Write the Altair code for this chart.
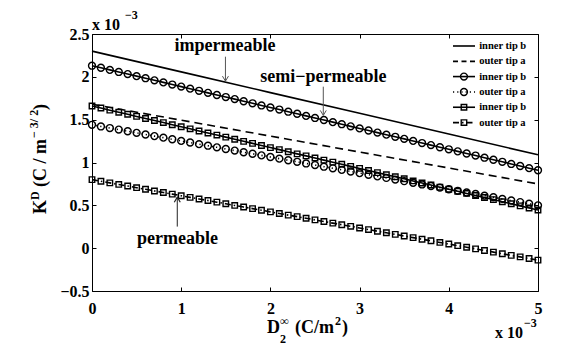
import altair as alt
import pandas as pd

# ---------------- data (values in units of 1e-3) ----------------
X_VALS = [0.0, 0.1, 0.2, 0.3, 0.4, 0.5, 0.6, 0.7, 0.8, 0.9,
          1.0, 1.1, 1.2, 1.3, 1.4, 1.5, 1.6, 1.7, 1.8, 1.9,
          2.0, 2.1, 2.2, 2.3, 2.4, 2.5, 2.6, 2.7, 2.8, 2.9,
          3.0, 3.1, 3.2, 3.3, 3.4, 3.5, 3.6, 3.7, 3.8, 3.9,
          4.0, 4.1, 4.2, 4.3, 4.4, 4.5, 4.6, 4.7, 4.8, 4.9, 5.0]

X_LINE = [0, 1, 2, 3, 4, 5]
IMP_INNER = [2.300, 2.058, 1.816, 1.574, 1.332, 1.090]
IMP_OUTER = [1.680, 1.494, 1.308, 1.122, 0.936, 0.750]

SEMI_INNER = [2.130, 2.106, 2.081, 2.057, 2.032, 2.008, 1.984, 1.959, 1.935, 1.910,
              1.886, 1.862, 1.837, 1.813, 1.788, 1.764, 1.740, 1.715, 1.691, 1.666,
              1.642, 1.618, 1.593, 1.569, 1.544, 1.520, 1.496, 1.471, 1.447, 1.422,
              1.398, 1.374, 1.349, 1.325, 1.300, 1.276, 1.252, 1.227, 1.203, 1.178,
              1.154, 1.130, 1.105, 1.081, 1.056, 1.032, 1.008, 0.983, 0.959, 0.934, 0.910]
SEMI_OUTER = [1.440, 1.421, 1.402, 1.384, 1.365, 1.346, 1.327, 1.308, 1.290, 1.271,
              1.252, 1.233, 1.214, 1.196, 1.177, 1.158, 1.139, 1.120, 1.102, 1.083,
              1.064, 1.045, 1.026, 1.008, 0.989, 0.970, 0.951, 0.932, 0.914, 0.895,
              0.876, 0.857, 0.838, 0.820, 0.801, 0.782, 0.763, 0.744, 0.726, 0.707,
              0.688, 0.669, 0.650, 0.632, 0.613, 0.594, 0.575, 0.556, 0.538, 0.519, 0.500]
PERM_INNER = [1.660, 1.636, 1.611, 1.587, 1.563, 1.538, 1.514, 1.490, 1.466, 1.441,
              1.417, 1.393, 1.368, 1.344, 1.320, 1.296, 1.271, 1.247, 1.223, 1.198,
              1.174, 1.150, 1.125, 1.101, 1.077, 1.053, 1.028, 1.004, 0.980, 0.955,
              0.931, 0.907, 0.882, 0.858, 0.834, 0.810, 0.785, 0.761, 0.737, 0.712,
              0.688, 0.664, 0.639, 0.615, 0.591, 0.567, 0.542, 0.518, 0.494, 0.469, 0.445]
PERM_OUTER = [0.800, 0.781, 0.762, 0.744, 0.725, 0.706, 0.687, 0.668, 0.650, 0.631,
              0.612, 0.593, 0.574, 0.556, 0.537, 0.518, 0.499, 0.480, 0.462, 0.443,
              0.424, 0.405, 0.386, 0.368, 0.349, 0.330, 0.311, 0.292, 0.274, 0.255,
              0.236, 0.217, 0.198, 0.180, 0.161, 0.142, 0.123, 0.104, 0.086, 0.067,
              0.048, 0.029, 0.010, -0.008, -0.027, -0.046, -0.065, -0.084, -0.102, -0.121, -0.140]

LEGEND_LABELS = ["inner tip b", "outer tip a", "inner tip b",
                 "outer tip a", "inner tip b", "outer tip a"]
X_TICKS = [0, 1, 2, 3, 4, 5]
Y_TICKS = [-0.5, 0, 0.5, 1, 1.5, 2, 2.5]

# ---------------- styling ----------------
SERIF = "Liberation Serif"
XS = alt.Scale(domain=[0, 5], nice=False, zero=False)
YS = alt.Scale(domain=[-0.5, 2.5], nice=False, zero=False)
CIRCLE_SIZE = 48
SQUARE_SIZE = 30

DASHED = [8, 5]
DOTTED = [1.2, 3]
DASHDOT = [6, 3, 1.5, 3]


def enc():
    return dict(x=alt.X("x:Q", scale=XS, axis=None),
                y=alt.Y("y:Q", scale=YS, axis=None))


def series(xs, ys, dash=None, shape=None, size=40):
    df = pd.DataFrame({"x": xs, "y": ys})
    lp = dict(color="black", strokeWidth=1.6)
    if dash:
        lp["strokeDash"] = dash
    out = [alt.Chart(df).mark_line(**lp).encode(**enc())]
    if shape:
        out.append(alt.Chart(df).mark_point(shape=shape, size=size, filled=False,
                                            color="black", strokeWidth=1.4,
                                            opacity=1).encode(**enc()))
    return out


def txt(text, x, y, dx=0, dy=0, size=18, angle=0, align="left",
        baseline="alphabetic", color="black"):
    df = pd.DataFrame({"x": [x], "y": [y], "t": [text]})
    p = dict(align=align, baseline=baseline, dx=dx, dy=dy, fontSize=size,
             font=SERIF, fontWeight="bold", color=color)
    if angle:
        p["angle"] = angle
    return alt.Chart(df).mark_text(**p).encode(text="t:N", **enc())


def seg(x1, y1, x2, y2, dash=None, color="black", width=1.5):
    df = pd.DataFrame({"x": [x1], "y": [y1], "x2": [x2], "y2": [y2]})
    p = dict(color=color, strokeWidth=width)
    if dash:
        p["strokeDash"] = dash
    return alt.Chart(df).mark_rule(**p).encode(x2="x2:Q", y2="y2:Q", **enc())


def pt(x, y, shape, size, color="black", width=1.4):
    df = pd.DataFrame({"x": [x], "y": [y]})
    return alt.Chart(df).mark_point(shape=shape, size=size, filled=False, color=color,
                                    strokeWidth=width, opacity=1).encode(**enc())


ARROW_DOWN = "M-0.6,-1L0,0L0.6,-1"
ARROW_UP = "M-0.6,1L0,0L0.6,1"

layers = []

# axes (main + mirrored, ticks pointing inward)
ax = dict(domain=False, grid=False, ticks=True, tickSize=4, tickColor="black",
          tickWidth=1, offset=-4, labelFont=SERIF, labelFontWeight="bold",
          labelFontSize=16, labelColor="black", title=None)
frame_df = pd.DataFrame({"x": X_VALS, "y": SEMI_INNER})
layers.append(alt.Chart(frame_df).mark_point(opacity=0).encode(
    x=alt.X("x:Q", scale=XS, axis=alt.Axis(orient="bottom", values=X_TICKS, format="d",
                                           labelFlush=False, labelPadding=9, **ax)),
    y=alt.Y("y:Q", scale=YS, axis=alt.Axis(orient="left", values=Y_TICKS, format="~g",
                                           labelPadding=3, **ax))))
layers.append(alt.Chart(frame_df).mark_point(opacity=0).encode(
    x=alt.X("x:Q", scale=XS, axis=alt.Axis(orient="top", values=X_TICKS, labels=False, **ax)),
    y=alt.Y("y:Q", scale=YS, axis=alt.Axis(orient="right", values=Y_TICKS, labels=False, **ax))))

# data series
layers += series(X_LINE, IMP_INNER)
layers += series(X_LINE, IMP_OUTER, dash=DASHED)
layers += series(X_VALS, SEMI_INNER, shape="circle", size=CIRCLE_SIZE)
layers += series(X_VALS, SEMI_OUTER, dash=DOTTED, shape="circle", size=CIRCLE_SIZE)
layers += series(X_VALS, PERM_INNER, shape="square", size=SQUARE_SIZE)
layers += series(X_VALS, PERM_OUTER, dash=DASHDOT, shape="square", size=SQUARE_SIZE)

# annotations with arrows
ARROW_COL = "#555555"
layers.append(txt("impermeable", 1.49, 2.305, align="center"))
layers.append(seg(1.496, 2.235, 1.496, 1.95, color=ARROW_COL, width=1))
layers.append(pt(1.496, 1.95, ARROW_DOWN, 100, color=ARROW_COL, width=1))

layers.append(txt("semi\u2212permeable", 2.595, 1.943, align="center"))
layers.append(seg(2.593, 1.885, 2.593, 1.55, color=ARROW_COL, width=1))
layers.append(pt(2.593, 1.55, ARROW_DOWN, 100, color=ARROW_COL, width=1))

layers.append(txt("permeable", 0.958, 0.05, align="center"))
layers.append(seg(0.956, 0.252, 0.956, 0.595, color="#222222", width=1))
layers.append(pt(0.956, 0.595, ARROW_UP, 100, color="#222222", width=1.2))

# legend (inside plot, top right, no box)
LEG_Y = [2.360, 2.181, 2.003, 1.823, 1.645, 1.466]
LEG_DASH = [None, [5, 3.5], None, DOTTED, None, DASHDOT]
LEG_SHAPE = [None, None, "circle", "circle", "square", "square"]
for i in range(6):
    layers.append(seg(4.047, LEG_Y[i], 4.294, LEG_Y[i], dash=LEG_DASH[i], width=1.6))
    if LEG_SHAPE[i]:
        layers.append(pt(4.17, LEG_Y[i], LEG_SHAPE[i],
                         CIRCLE_SIZE if LEG_SHAPE[i] == "circle" else SQUARE_SIZE))
    layers.append(txt(LEGEND_LABELS[i], 4.34, LEG_Y[i], size=10.5, baseline="middle"))

# exponent labels  (x 10^-3)
layers.append(txt("x 10", 0, 2.5, dx=0, dy=-4, size=16))
layers.append(txt("\u22123", 0, 2.5, dx=33, dy=-15, size=12))
layers.append(txt("x 10", 5, -0.5, dx=-15, dy=47, size=16, align="right"))
layers.append(txt("\u22123", 5, -0.5, dx=-14, dy=36, size=12))

# x-axis title: D_2^inf (C/m^2)   (anchor at bottom centre of plot)
layers.append(txt("D", 2.5, -0.5, dx=-48, dy=42, size=18))
layers.append(txt("\u221e", 2.5, -0.5, dx=-35, dy=34, size=12))
layers.append(txt("2", 2.5, -0.5, dx=-35, dy=52, size=12))
layers.append(txt("(C/m", 2.5, -0.5, dx=-20, dy=42, size=18))
layers.append(txt("2", 2.5, -0.5, dx=20, dy=34, size=12))
layers.append(txt(")", 2.5, -0.5, dx=27, dy=42, size=18))

# y-axis title: K^D (C / m^-3/2)   (rotated, anchor at bottom-left of plot)
layers.append(txt("K", 0, -0.5, dx=77, dy=-46, size=18, angle=270))
layers.append(txt("D", 0, -0.5, dx=91, dy=-53, size=12, angle=270))
layers.append(txt("(C / m", 0, -0.5, dx=104, dy=-46, size=18, angle=270))
layers.append(txt("\u2212 3/ 2", 0, -0.5, dx=153, dy=-54, size=12, angle=270))
layers.append(txt(")", 0, -0.5, dx=181, dy=-46, size=18, angle=270))

chart = alt.layer(*layers).properties(
    width=446, height=257,
    autosize=alt.AutoSizeParams(type="none"),
    padding={"left": 84, "top": 26, "right": 23, "bottom": 56},
).resolve_axis(x="independent", y="independent").configure_view(
    stroke="black", strokeWidth=1)

chart.save("out.html", embed_options={"renderer": "svg", "actions": False})
